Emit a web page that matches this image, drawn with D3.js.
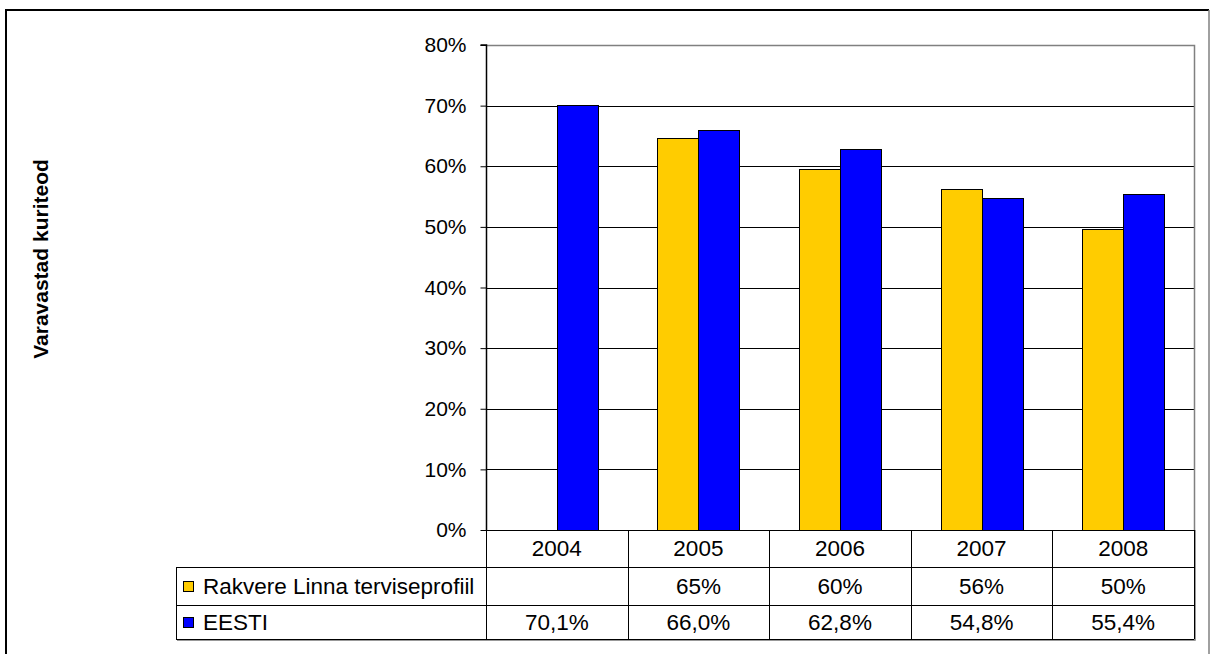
<!DOCTYPE html>
<html>
<head>
<meta charset="utf-8">
<script src="https://cdn.jsdelivr.net/npm/d3@7"></script>
<style>
  html, body { margin: 0; padding: 0; background: #fff; }
  svg { display: block; font-family: Arial, "Liberation Sans", sans-serif; }
</style>
</head>
<body>
<svg id="chart" width="1210" height="654"></svg>
<script>
// ---- data ----
const years = ["2004", "2005", "2006", "2007", "2008"];
const seriesNames = ["Rakvere Linna terviseprofiil", "EESTI"];
const rakvere = [null, 0.647, 0.596, 0.563, 0.497];
const eesti = [0.701, 0.660, 0.628, 0.548, 0.554];
const yTicks = [0, 0.1, 0.2, 0.3, 0.4, 0.5, 0.6, 0.7, 0.8];
const axisTitle = "Varavastad kuriteod";
const colors = ["#FFCC00", "#0000FF"];

// ---- layout ----
const svg = d3.select("#chart");
const W = 1210, H = 654;
const plot = { left: 486, right: 1194, top: 45, bottom: 530 };
const tableLeft = 176;
const rowBounds = [530, 567, 605, 639];
const fontSize = 21;
const tableFont = 22.5;

const seriesValues = [rakvere, eesti];
const pctInt = d3.format(".0%");
const locale = d3.formatLocale({ decimal: ",", thousands: " ", grouping: [3], currency: ["", "€"] });
const pctDec = locale.format(".1%");
const labelFormats = [v => v == null ? "" : pctInt(v), v => v == null ? "" : pctDec(v)];

const x = d3.scaleBand().domain(years).range([plot.left, plot.right]).paddingInner(0).paddingOuter(0);
const xs = d3.scaleBand().domain([0, 1]).range([0, x.bandwidth()]).paddingInner(0).paddingOuter(0.727);
const y = d3.scaleLinear().domain([0, 0.8]).range([plot.bottom, plot.top]);

// outer frame
svg.append("line").attr("x1", 6).attr("x2", 1209).attr("y1", 10).attr("y2", 10).attr("stroke", "#000").attr("stroke-width", 2);
svg.append("line").attr("x1", 6).attr("x2", 6).attr("y1", 9).attr("y2", H).attr("stroke", "#000").attr("stroke-width", 2);
svg.append("line").attr("x1", 1209).attr("x2", 1209).attr("y1", 10).attr("y2", H).attr("stroke", "#808080").attr("stroke-width", 1.5);

// gridlines
svg.append("g").selectAll("line").data(yTicks.filter(t => t > 0 && t < 0.8)).join("line")
  .attr("x1", plot.left).attr("x2", plot.right)
  .attr("y1", d => Math.round(y(d)) + 0.5).attr("y2", d => Math.round(y(d)) + 0.5)
  .attr("stroke", "#000").attr("stroke-width", 1);

// plot border (top/right gray)
svg.append("path")
  .attr("d", `M${plot.left},${plot.top + 0.5}H${plot.right + 0.5}V${plot.bottom}`)
  .attr("fill", "none").attr("stroke", "#808080").attr("stroke-width", 1.5);

// bars
const bars = [];
years.forEach((yr, i) => {
  seriesValues.forEach((vals, s) => {
    if (vals[i] != null) bars.push({ yr, s, v: vals[i] });
  });
});
svg.append("g").selectAll("rect").data(bars).join("rect")
  .attr("x", d => Math.round(x(d.yr) + xs(d.s)) + 0.5)
  .attr("y", d => Math.round(y(d.v)) + 0.5)
  .attr("width", Math.round(xs.bandwidth()))
  .attr("height", d => Math.round(y(0)) - Math.round(y(d.v)))
  .attr("fill", d => colors[d.s])
  .attr("stroke", "#000").attr("stroke-width", 1);

// y axis
const yAxis = d3.axisLeft(y).tickValues(yTicks).tickFormat(d3.format(".0%")).tickSize(6).tickPadding(14);
const ga = svg.append("g").attr("transform", `translate(${plot.left + 0.5},0)`).call(yAxis);
ga.select(".domain").attr("stroke", "#000").attr("stroke-width", 1.5).attr("d", `M-6,${plot.top}H0V${plot.bottom}`);
ga.selectAll(".tick line").attr("stroke", "#000");
ga.selectAll(".tick text").attr("font-size", fontSize).attr("font-family", "Arial, 'Liberation Sans', sans-serif").attr("fill", "#000");

// axis title
svg.append("text")
  .attr("transform", `translate(48,259) rotate(-90)`)
  .attr("text-anchor", "middle")
  .attr("font-size", fontSize).attr("font-weight", "bold")
  .text(axisTitle);

// data table
const tg = svg.append("g").attr("stroke", "#000").attr("stroke-width", 1);
tg.append("line").attr("x1", plot.left).attr("x2", plot.right).attr("y1", rowBounds[0] + 0.5).attr("y2", rowBounds[0] + 0.5);
[rowBounds[1], rowBounds[2], rowBounds[3]].forEach(yy => {
  tg.append("line").attr("x1", tableLeft).attr("x2", plot.right).attr("y1", yy + 0.5).attr("y2", yy + 0.5);
});
const colEdges = years.map(yr => x(yr)).concat([plot.right]);
colEdges.forEach(xx => {
  tg.append("line").attr("x1", Math.round(xx) + 0.5).attr("x2", Math.round(xx) + 0.5).attr("y1", rowBounds[0]).attr("y2", rowBounds[3] + 0.5);
});
tg.append("line").attr("x1", tableLeft + 0.5).attr("x2", tableLeft + 0.5).attr("y1", rowBounds[1]).attr("y2", rowBounds[3] + 0.5);
svg.append("path").attr("d", `M${tableLeft + 1},${rowBounds[3] + 1.5}H${plot.right + 1.5}V${rowBounds[0]}`)
  .attr("fill", "none").attr("stroke", "#999").attr("stroke-width", 1);

// header row
svg.append("g").selectAll("text").data(years).join("text")
  .attr("x", d => x(d) + x.bandwidth() / 2)
  .attr("y", (rowBounds[0] + rowBounds[1]) / 2)
  .attr("dy", "0.35em").attr("text-anchor", "middle").attr("font-size", tableFont)
  .text(d => d);

// series rows
seriesValues.forEach((vals, s) => {
  const rowMid = (rowBounds[s + 1] + rowBounds[s + 2]) / 2;
  svg.append("rect")
    .attr("x", tableLeft + 7.5).attr("y", Math.round(rowMid - 5) + 0.5)
    .attr("width", 10).attr("height", 10)
    .attr("fill", colors[s]).attr("stroke", "#000").attr("stroke-width", 1);
  svg.append("text")
    .attr("x", tableLeft + 27).attr("y", rowMid).attr("dy", "0.35em")
    .attr("font-size", tableFont).text(seriesNames[s]);
  svg.append("g").selectAll("text").data(years).join("text")
    .attr("x", d => x(d) + x.bandwidth() / 2)
    .attr("y", rowMid).attr("dy", "0.35em")
    .attr("text-anchor", "middle").attr("font-size", tableFont)
    .text((d, i) => labelFormats[s](vals[i]));
});
</script>
</body>
</html>
